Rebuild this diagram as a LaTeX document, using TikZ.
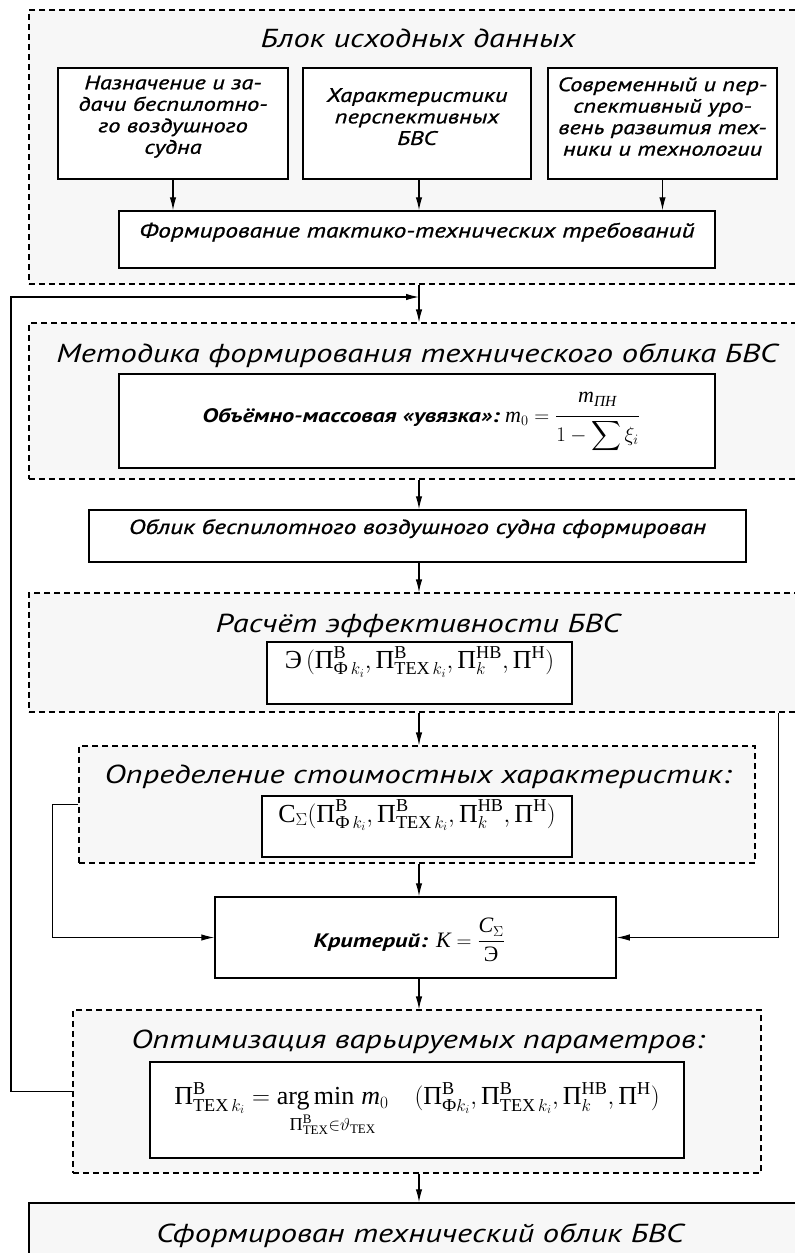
\documentclass[tikz,border=0pt]{standalone}
\usepackage{amsmath}
\usepackage{fontspec}
\setmainfont{PT Sans}[FakeStretch=1.25]
\newfontfamily\serf{Liberation Serif}
\newfontfamily\medf{PT Sans}[FakeStretch=1.25, FakeBold=1.0]
\usetikzlibrary{arrows.meta,fit}
\newcommand\cy[1]{\text{\serf\mdseries\upshape #1}}
\newcommand\ci[1]{\text{\serf\mdseries\itshape #1}}
\definecolor{blockfill}{gray}{0.97}
\tikzset{
  dblock/.style={draw, dashed, dash pattern=on 6pt off 4pt, line width=1.2pt, fill=blockfill, inner sep=0pt},
  sbox/.style={draw, line width=1.5pt, fill=white, inner sep=0pt},
  gbox/.style={draw, line width=1.5pt, fill=blockfill, inner sep=0pt},
  arr/.style={-{Latex[length=13pt,width=6.5pt]}, line width=1.2pt},
  sidearr/.style={-{Latex[length=13pt,width=6.5pt]}, line width=1pt},
  ttl/.style={font=\fontsize{26}{30}\selectfont\itshape, anchor=base, inner sep=0pt},
  btxt/.style={font=\medf\fontsize{19.5}{21.5}\selectfont\itshape, align=center},
  ltxt/.style={font=\medf\fontsize{20.3}{22}\selectfont\itshape, align=center},
  bl/.style={font=\fontsize{19.5}{22}\selectfont\bfseries\itshape, inner sep=0pt, anchor=base east},
  ml/.style={font=\fontsize{22}{26}\selectfont, inner sep=0pt, anchor=base west},
  mtxt/.style={font=\fontsize{26}{30}\selectfont, align=center},
}
\begin{document}
\begin{tikzpicture}[x=1pt,y=-1pt]
\useasboundingbox (0,0) rectangle (795,1253);
\coordinate (ax) at (419,0);

% blocks
\node[dblock, fit={(29,10) (800,284)}] (b1) {};
\node[dblock, fit={(29,323) (800,479)}] (b2) {};
\node[dblock, fit={(29,593) (800,712)}] (b3) {};
\node[dblock, fit={(79,746) (755,863)}] (b4) {};
\node[dblock, fit={(73,1010) (761,1173)}] (b5) {};
\node[gbox, fit={(29,1203) (805,1300)}] (fin) {};

% titles
\node[ttl] (t1) at (418,47) {Блок исходных данных};
\node[ttl] (t2) at (417,362) {Методика формирования технического облика БВС};
\node[ttl] (t3) at (418,632) {Расчёт эффективности БВС};
\node[ttl] (t4) at (418,783) {Определение стоимостных характеристик:};
\node[ttl] (t5) at (418,1048) {Оптимизация варьируемых параметров:};
\node[ttl] (t6) at (420,1242) {Сформирован технический облик БВС};

% top boxes
\node[sbox, btxt, fit={(58,68) (288,179)}] (n1) {Назначение и за-\\дачи беспилотно-\\го воздушного\\судна};
\node[sbox, btxt, fit={(303,68) (531,179)}] (n2) {Характеристики\\перспективных\\БВС};
\node[sbox, btxt, fit={(548,68) (777,179)}] (n3) {Современный и пер-\\спективный уро-\\вень развития тех-\\ники и технологии};
\node[sbox, ltxt, fit={(119,211) (715,268)}] (ttt) {Формирование тактико-технических требований};

% inner boxes
\node[sbox, fit={(119,374) (715,468)}] (mass) {};
\node[bl] (massl) at (500,422) {Объёмно-массовая «увязка»:};
\node[ml] (massm) at (505,422) {$\ci{m}_0=\dfrac{\ci{m}_{\ci{ПН}}\rule[-11pt]{0pt}{0pt}}{1-\displaystyle\sum\xi_i}$};
\node[sbox, ltxt, fit={(89,510) (746,562)}] (obl) {Облик беспилотного воздушного судна сформирован};
\node[sbox, mtxt, fit={(267,642) (572,704)}] (eff) {$\cy{Э}\,(\cy{П}^{\cy{В}}_{\cy{Ф}\,k_i},\cy{П}^{\cy{В}}_{\cy{ТЕХ}\,k_i},\cy{П}^{\cy{НВ}}_{k},\cy{П}^{\cy{Н}})$};
\node[sbox, mtxt, fit={(262,796) (572,857)}] (cost) {$\cy{С}_{\Sigma}(\cy{П}^{\cy{В}}_{\cy{Ф}\,k_i},\cy{П}^{\cy{В}}_{\cy{ТЕХ}\,k_i},\cy{П}^{\cy{НВ}}_{k},\cy{П}^{\cy{Н}})$};
\node[sbox, fit={(215,897) (616,978)}] (crit) {};
\node[bl] (critl) at (428,947) {Критерий:};
\node[ml] (critm) at (436,947) {$\ci{K}=\dfrac{\ci{C}_{\Sigma}}{\cy{Э}}$};
\node[sbox, fit={(150,1062) (684,1158)}] (opt) {};
\node[mtxt, inner sep=0pt] (optt) at (opt.center) {$\cy{П}^{\cy{В}}_{\cy{ТЕХ}\,k_i}=\underset{\cy{П}^{\cy{В}}_{\cy{ТЕХ}}\in\vartheta_{\cy{ТЕХ}}}{\cy{arg\,min}\;\ci{m}_0}\quad(\cy{П}^{\cy{В}}_{\cy{Ф}k_i},\cy{П}^{\cy{В}}_{\cy{ТЕХ}\,k_i},\cy{П}^{\cy{НВ}}_{k},\cy{П}^{\cy{Н}})$};

% top arrows
\draw[arr] (n1.south) -- (n1.south |- ttt.north);
\draw[arr] (n2.south -| ax) -- (ttt.north -| ax);
\draw[arr] (n3.south) -- (n3.south |- ttt.north);

% main flow
\draw[arr] (b1.south -| ax) -- (b2.north -| ax);
\draw[arr] (b2.south -| ax) -- (obl.north -| ax);
\draw[arr] (obl.south -| ax) -- (b3.north -| ax);
\draw[arr] (b3.south -| ax) -- (b4.north -| ax);
\draw[arr] (b4.south -| ax) -- (crit.north -| ax);
\draw[arr] (crit.south -| ax) -- (b5.north -| ax);
\draw[arr] (b5.south -| ax) -- (fin.north -| ax);

% side connectors
\coordinate (l4) at (52,937.5);
\draw[sidearr] (b4.west) -| (l4) -- (crit.west);
\coordinate (r3) at (778,712);
\draw[sidearr] (b3.south -| r3) |- (crit.east);
\coordinate (fb) at (11,297);
\draw[arr] (b5.west) -| (fb) -- (fb -| ax);
\end{tikzpicture}
\end{document}
